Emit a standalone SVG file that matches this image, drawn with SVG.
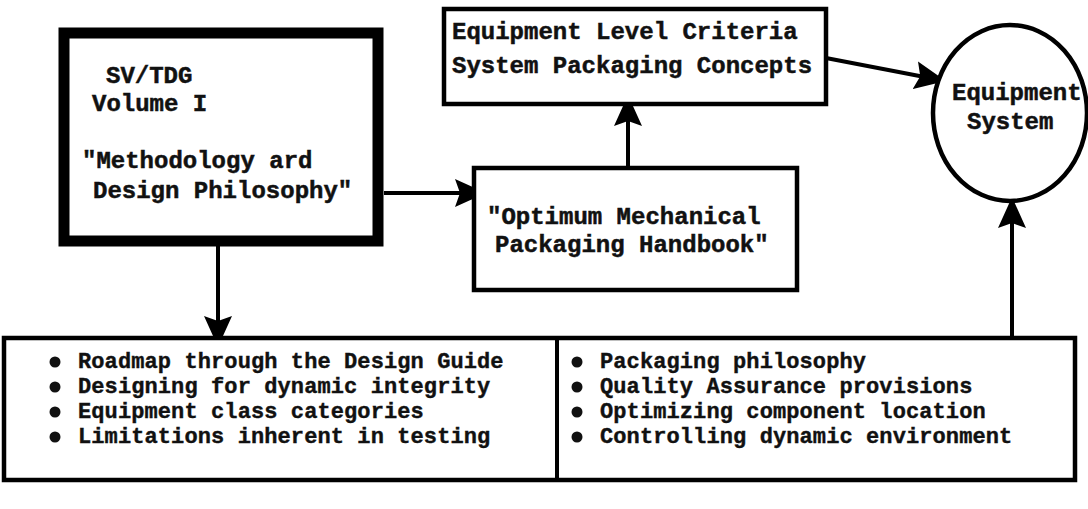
<svg xmlns="http://www.w3.org/2000/svg" width="1088" height="509" viewBox="0 0 1088 509">
  <style>
    .box { fill: #fff; stroke: #000; stroke-width: 4.5; }
    .heavy { fill: #fff; stroke: #000; stroke-width: 11; }
    .txt { font-family: "Liberation Mono", "DejaVu Sans Mono", monospace; font-weight: bold; font-size: 24px; fill: #111; stroke: #111; stroke-width: 0.5; }
    .list { font-family: "Liberation Mono", "DejaVu Sans Mono", monospace; font-weight: bold; font-size: 22px; letter-spacing: 0.1px; fill: #111; stroke: #111; stroke-width: 0.4; }
    .wire { fill: none; stroke: #000; stroke-width: 4; }
    .dot { fill: #111; }
  </style>
  <defs>
    <marker id="head" viewBox="-20 -15 32 30" refX="0" refY="0" markerWidth="32" markerHeight="30" markerUnits="userSpaceOnUse" orient="auto">
      <path d="M-20,-14 L11,0 L-20,14 L-15,0 z" fill="#000"/>
    </marker>
  </defs>
  <rect width="1088" height="509" fill="#fff"/>

  <!-- connectors -->
  <g id="connectors">
    <line class="wire" x1="218" y1="246" x2="218" y2="336" marker-end="url(#head)"/>
    <line class="wire" x1="384" y1="193" x2="475" y2="193" marker-end="url(#head)"/>
    <line class="wire" x1="628" y1="168" x2="628" y2="106" marker-end="url(#head)"/>
    <line class="wire" x1="826" y1="58" x2="935" y2="79" marker-end="url(#head)"/>
    <line class="wire" x1="1012" y1="338" x2="1012" y2="208" marker-end="url(#head)"/>
  </g>

  <!-- SV/TDG Volume I -->
  <g id="volume1">
    <rect class="heavy" x="64" y="33" width="314" height="208"/>
    <text class="txt" x="106" y="83">SV/TDG</text>
    <text class="txt" x="92" y="111">Volume I</text>
    <text class="txt" x="82" y="168">"Methodology ard</text>
    <text class="txt" x="93" y="198">Design Philosophy"</text>
  </g>

  <!-- Equipment level criteria -->
  <g id="criteria">
    <rect class="box" x="444" y="9" width="382" height="95"/>
    <text class="txt" x="452" y="39">Equipment Level Criteria</text>
    <text class="txt" x="452" y="73">System Packaging Concepts</text>
  </g>

  <!-- Handbook -->
  <g id="handbook">
    <rect class="box" x="474" y="168" width="323" height="122"/>
    <text class="txt" x="487" y="224">"Optimum Mechanical</text>
    <text class="txt" x="495" y="252">Packaging Handbook"</text>
  </g>

  <!-- Equipment system -->
  <g id="system">
    <ellipse class="box" cx="1010" cy="113" rx="77" ry="88"/>
    <text class="txt" x="952" y="100">Equipment</text>
    <text class="txt" x="967" y="129">System</text>
  </g>

  <!-- Topic lists -->
  <g id="topics">
    <rect class="box" x="4" y="338" width="1071" height="142"/>
    <line class="wire" x1="557" y1="338" x2="557" y2="480"/>
    <g id="topics-left">
      <circle class="dot" cx="55" cy="362" r="5.5"/>
      <circle class="dot" cx="55" cy="387" r="5.5"/>
      <circle class="dot" cx="55" cy="412" r="5.5"/>
      <circle class="dot" cx="55" cy="437" r="5.5"/>
      <text class="list" x="78" y="368">Roadmap through the Design Guide</text>
      <text class="list" x="78" y="393">Designing for dynamic integrity</text>
      <text class="list" x="78" y="418">Equipment class categories</text>
      <text class="list" x="78" y="443">Limitations inherent in testing</text>
    </g>
    <g id="topics-right">
      <circle class="dot" cx="577" cy="362" r="5.5"/>
      <circle class="dot" cx="577" cy="387" r="5.5"/>
      <circle class="dot" cx="577" cy="412" r="5.5"/>
      <circle class="dot" cx="577" cy="437" r="5.5"/>
      <text class="list" x="600" y="368">Packaging philosophy</text>
      <text class="list" x="600" y="393">Quality Assurance provisions</text>
      <text class="list" x="600" y="418">Optimizing component location</text>
      <text class="list" x="600" y="443">Controlling dynamic environment</text>
    </g>
  </g>
</svg>
